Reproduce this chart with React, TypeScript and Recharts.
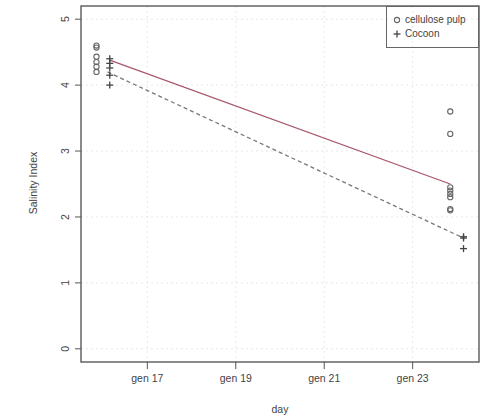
import React from "react";
import {
  ComposedChart,
  Scatter,
  Line,
  XAxis,
  YAxis,
  CartesianGrid,
  ReferenceArea,
} from "recharts";

// days are offset a little so the two groups don't overlap
const pulpStartDay = 15.85;
const pulpEndDay = 23.85;
const cocoonStartDay = 16.15;
const cocoonEndDay = 24.15;

const pulpStart = [4.6, 4.57, 4.43, 4.35, 4.28, 4.2];
const pulpEnd = [3.6, 3.26, 2.45, 2.4, 2.35, 2.3, 2.12, 2.1];
const cocoonStart = [4.4, 4.33, 4.26, 4.15, 4.0];
const cocoonEnd = [1.7, 1.68, 1.52];

const pulpMean = [4.38, 2.5];
const cocoonMean = [4.2, 1.68];

const xTicks = [17, 19, 21, 23];
const xTickLabels = ["gen 17", "gen 19", "gen 21", "gen 23"];
const yTicks = [0, 1, 2, 3, 4, 5];

const pulpPoints = [
  ...pulpStart.map((y) => ({ x: pulpStartDay, y })),
  ...pulpEnd.map((y) => ({ x: pulpEndDay, y })),
];
const cocoonPoints = [
  ...cocoonStart.map((y) => ({ x: cocoonStartDay, y })),
  ...cocoonEnd.map((y) => ({ x: cocoonEndDay, y })),
];
const pulpLine = [
  { x: cocoonStartDay, y: pulpMean[0] },
  { x: pulpEndDay, y: pulpMean[1] },
];
const cocoonLine = [
  { x: 16.1, y: cocoonMean[0] },
  { x: cocoonEndDay, y: cocoonMean[1] },
];

const FONT = "'Liberation Sans', Arial, sans-serif";
const INK = "#555";

function Circle(props: any) {
  const { cx, cy } = props;
  return <circle cx={cx} cy={cy} r={2.6} fill="none" stroke="#666" strokeWidth={1.1} />;
}

function Plus(props: any) {
  const { cx, cy } = props;
  return (
    <g stroke="#444" strokeWidth={1.3}>
      <line x1={cx - 3.5} y1={cy} x2={cx + 3.5} y2={cy} />
      <line x1={cx} y1={cy - 3.5} x2={cx} y2={cy + 3.5} />
    </g>
  );
}

function XTick(props: any) {
  const { x, y, payload } = props;
  const i = xTicks.indexOf(payload.value);
  return (
    <text x={x} y={y + 11} textAnchor="middle" fontSize={10.5} fill="#444" fontFamily={FONT}>
      {xTickLabels[i]}
    </text>
  );
}

function YTick(props: any) {
  const { x, y, payload } = props;
  return (
    <text
      x={x - 4}
      y={y}
      textAnchor="middle"
      fontSize={10.5}
      fill="#444"
      fontFamily={FONT}
      transform={`rotate(-90 ${x - 4} ${y})`}
    >
      {payload.value}
    </text>
  );
}

export default function App() {
  return (
    <div style={{ position: "absolute", left: 0, top: 0, width: 487, height: 418, background: "#fff", fontFamily: FONT }}>
      <ComposedChart width={487} height={418} margin={{ top: 6, right: 8, bottom: 0, left: 0 }}>
        <CartesianGrid stroke="#e8e8e8" strokeDasharray="2 3" />
        <XAxis
          type="number"
          dataKey="x"
          domain={[15.5, 24.5]}
          ticks={xTicks}
          allowDataOverflow
          height={56}
          axisLine={false}
          tickSize={7}
          tickLine={{ stroke: INK }}
          tick={<XTick />}
        />
        <YAxis
          type="number"
          dataKey="y"
          domain={[-0.2, 5.2]}
          ticks={yTicks}
          allowDataOverflow
          width={81}
          axisLine={false}
          tickSize={6}
          tickLine={{ stroke: INK }}
          tick={<YTick />}
        />
        <ReferenceArea
          x1={15.5}
          x2={24.5}
          y1={-0.2}
          y2={5.2}
          fill="none"
          stroke="#666"
          strokeWidth={1.5}
          fillOpacity={0}
          ifOverflow="visible"
        />
        <Line
          data={pulpLine}
          dataKey="y"
          type="linear"
          stroke="#a8576a"
          strokeWidth={1.3}
          dot={false}
          isAnimationActive={false}
        />
        <Line
          data={cocoonLine}
          dataKey="y"
          type="linear"
          stroke="#777"
          strokeWidth={1.3}
          strokeDasharray="4 3"
          dot={false}
          isAnimationActive={false}
        />
        <Scatter data={pulpPoints} dataKey="y" shape={<Circle />} isAnimationActive={false} />
        <Scatter data={cocoonPoints} dataKey="y" shape={<Plus />} isAnimationActive={false} />
      </ComposedChart>

      <div
        style={{
          position: "absolute",
          left: 386,
          top: 6,
          width: 93,
          height: 42,
          border: "1px solid #666",
          boxSizing: "border-box",
          fontSize: 10,
          color: "#444",
          lineHeight: "14px",
          paddingTop: 6,
        }}
      >
        <div style={{ display: "flex", alignItems: "center" }}>
          <svg width={18} height={14}>
            <circle cx={10} cy={7} r={2.6} fill="none" stroke="#666" strokeWidth={1.1} />
          </svg>
          <span>cellulose pulp</span>
        </div>
        <div style={{ display: "flex", alignItems: "center" }}>
          <svg width={18} height={14}>
            <line x1={6.5} y1={7} x2={13.5} y2={7} stroke="#444" strokeWidth={1.3} />
            <line x1={10} y1={3.5} x2={10} y2={10.5} stroke="#444" strokeWidth={1.3} />
          </svg>
          <span>Cocoon</span>
        </div>
      </div>

      <div
        style={{
          position: "absolute",
          left: 33,
          top: 183,
          transform: "translate(-50%, -50%) rotate(-90deg)",
          fontSize: 10.5,
          color: "#444",
          whiteSpace: "nowrap",
        }}
      >
        Salinity Index
      </div>
      <div
        style={{
          position: "absolute",
          left: 280,
          top: 409,
          transform: "translate(-50%, -50%)",
          fontSize: 10.5,
          color: "#444",
        }}
      >
        day
      </div>
    </div>
  );
}
